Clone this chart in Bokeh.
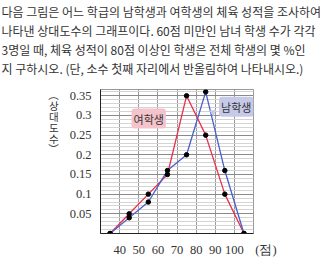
from bokeh.plotting import figure
from bokeh.models import FixedTicker, Label, Range1d, Title
from bokeh.embed import file_html
from bokeh.resources import INLINE

# data
scores = [35, 45, 55, 65, 75, 85, 95, 105]
female = [0, 0.05, 0.10, 0.15, 0.35, 0.25, 0.10, 0]
male = [0, 0.04, 0.08, 0.16, 0.20, 0.36, 0.16, 0]
x_ticks = [40, 50, 60, 70, 80, 90, 100, 110]
x_labels = {110: "\u2003\u2003(점)"}
y_ticks = [0.05, 0.10, 0.15, 0.20, 0.25, 0.30, 0.35]
y_labels = {0.05: "0.05", 0.1: "0.1", 0.15: "0.15", 0.2: "0.2", 0.25: "0.25", 0.3: "0.3", 0.35: "0.35"}
y_title_chars = ["︵", "상", "대", "도", "수", "︶"]
question = [
    "다음 그림은 어느 학급의 남학생과 여학생의 체육 성적을 조사하여",
    "나타낸 상대도수의 그래프이다. 60점 미만인 남녀 학생 수가 각각",
    "3명일 때, 체육 성적이 80점 이상인 학생은 전체 학생의 몇 %인",
    "지 구하시오. (단, 소수 첫째 자리에서 반올림하여 나타내시오.)",
]

KR = "Noto Sans CJK KR"
SERIF = "Liberation Serif"
TXT = "#333333"

p = figure(width=320, height=259, output_backend="svg", toolbar_location=None,
           x_range=Range1d(30, 110), y_range=Range1d(0, 0.366),
           min_border_left=100, min_border_right=67, min_border_top=0, min_border_bottom=15,
           title=None)
p.outline_line_color = "#999999"
p.background_fill_color = "white"

# spacer between the question text and the chart
p.add_layout(Title(text="\u3000", text_font=KR, text_font_size="8px",
                   standoff=0), "above")
# question text: one title per line, added from the bottom line upward
for line in reversed(question):
    p.add_layout(Title(text=line, align="left", offset=-99, text_font=KR,
                       text_font_size="12px", text_font_style="normal",
                       text_color=TXT, standoff=0), "above")

# grid
p.xgrid.ticker = FixedTicker(ticks=[40, 50, 60, 70, 80, 90, 100, 110])
p.xgrid.grid_line_color = "#9a9a9a"
p.ygrid.ticker = FixedTicker(ticks=y_ticks,
                             minor_ticks=[i / 100 for i in range(1, 37)])
p.ygrid.grid_line_color = "#8a8a8a"
p.ygrid.minor_grid_line_color = "#d4d4d4"

# axes
p.xaxis.ticker = FixedTicker(ticks=x_ticks)
p.xaxis.major_label_overrides = x_labels
p.yaxis.ticker = FixedTicker(ticks=y_ticks)
p.yaxis.major_label_overrides = y_labels
for ax in (p.xaxis, p.yaxis):
    ax.axis_line_color = "#222222"
    ax.major_tick_line_color = None
    ax.minor_tick_line_color = None
    ax.major_label_text_font = SERIF
    ax.major_label_text_font_size = "12.5px"
    ax.major_label_text_color = TXT
    ax.major_label_standoff = 3
# stacked vertical caption; blank lines on top shift it down from the axis end
p.yaxis.axis_label = "\n".join(["\u3000"] * 6 + y_title_chars)
p.yaxis.axis_label_orientation = "horizontal"
p.yaxis.axis_label_align = "end"
p.yaxis.axis_label_text_font = KR
p.yaxis.axis_label_text_font_size = "10.5px"
p.yaxis.axis_label_text_font_style = "normal"
p.yaxis.axis_label_text_color = TXT
p.yaxis.axis_label_text_line_height = 0.72
p.yaxis.axis_label_standoff = 8

# lines
p.line(scores, female, line_color="#e8304e", line_width=1.3)
p.line(scores, male, line_color="#4a5ecb", line_width=1.3)
p.scatter(scores, female, size=4.5, color="black")
p.scatter(scores, male, size=4.5, color="black")

# callouts
p.scatter([60.5], [0.283], marker="triangle", angle=0.9, size=7,
          fill_color="#f5c3cb", line_color=None)
p.add_layout(Label(x=55.2, y=0.292, text="여학생", text_font=KR,
                   text_font_size="11px", text_color=TXT,
                   text_align="center", text_baseline="middle",
                   background_fill_color="#f5c3cb", border_radius=3, padding=2))
p.scatter([88.8], [0.308], marker="triangle", angle=-0.9, size=7,
          fill_color="#c6cae8", line_color=None)
p.add_layout(Label(x=101.0, y=0.322, text="남학생", text_font=KR,
                   text_font_size="11px", text_color=TXT,
                   text_align="center", text_baseline="middle",
                   background_fill_color="#c6cae8", border_radius=3, padding=2))

open("out.html", "w").write(file_html(p, INLINE))
